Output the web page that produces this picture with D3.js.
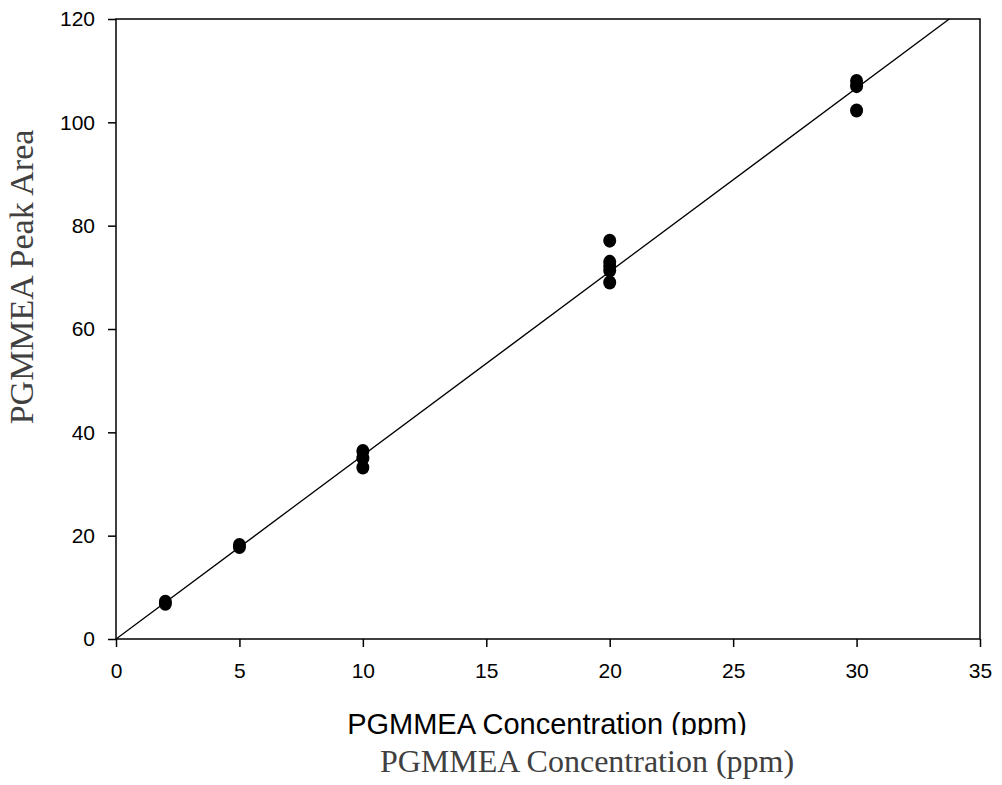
<!DOCTYPE html>
<html>
<head>
<meta charset="utf-8">
<style>
  body { margin: 0; background: #fff; }
  svg { display: block; }
</style>
<script src="https://cdn.jsdelivr.net/npm/d3@7"></script>
</head>
<body>
<svg width="1002" height="785"></svg>
<script>
// measured concentrations and peak areas
var conc = [2, 2, 5, 5, 10, 10, 10, 20, 20, 20, 20, 20, 30, 30, 30];
var area = [7.2, 6.8, 18.2, 17.8, 36.4, 35.0, 33.2, 77.1, 73.0, 72.2, 71.3, 69.0, 108.0, 107.0, 102.3];

// linear fit
var fitSlope = 3.555;
var fitIntercept = 0;

var xTicks = [0, 5, 10, 15, 20, 25, 30, 35];
var yTicks = [0, 20, 40, 60, 80, 100, 120];

var svg = d3.select("svg"),
    margin = {top: 19, right: 22, bottom: 146, left: 116},
    width = +svg.attr("width") - margin.left - margin.right,
    height = +svg.attr("height") - margin.top - margin.bottom;

var x = d3.scaleLinear().domain([0, 35]).range([0, width]);
var y = d3.scaleLinear().domain([0, 120]).range([height, 0]);

svg.append("defs").append("clipPath").attr("id", "plotclip")
  .append("rect").attr("width", width).attr("height", height);
svg.append("defs").append("clipPath").attr("id", "titleclip")
  .append("rect").attr("x", 0).attr("y", 0).attr("width", 1002).attr("height", 735);

var g = svg.append("g").attr("transform", "translate(" + margin.left + "," + margin.top + ")");

var xAxis = g.append("g")
    .attr("transform", "translate(0," + height + ")")
    .call(d3.axisBottom(x).tickValues(xTicks).tickSize(8).tickPadding(16).tickSizeOuter(0));
var yAxis = g.append("g")
    .call(d3.axisLeft(y).tickValues(yTicks).tickSize(8).tickPadding(13).tickSizeOuter(0));

[xAxis, yAxis].forEach(function(a) {
  a.select(".domain").remove();
  a.selectAll("line").attr("stroke", "#000").attr("stroke-width", 1.5);
  a.selectAll("text")
    .attr("fill", "#000")
    .style("font-family", "'Liberation Sans', Arial, sans-serif")
    .style("font-size", "21px");
});

// frame
g.append("rect")
  .attr("width", width).attr("height", height)
  .attr("fill", "none").attr("stroke", "#000").attr("stroke-width", 1.5);

// regression line
g.append("line")
  .attr("clip-path", "url(#plotclip)")
  .attr("x1", x(0)).attr("y1", y(fitIntercept))
  .attr("x2", x(35)).attr("y2", y(fitIntercept + fitSlope * 35))
  .attr("stroke", "#000").attr("stroke-width", 1.3);

// points
g.append("g").selectAll("ellipse")
  .data(conc.map(function(c, i) { return {c: c, a: area[i]}; }))
  .enter().append("ellipse")
  .attr("cx", function(d) { return x(d.c); })
  .attr("cy", function(d) { return y(d.a); })
  .attr("rx", 6.5).attr("ry", 7)
  .attr("fill", "#000");

// y title
svg.append("text")
  .attr("transform", "translate(33,277) rotate(-90)")
  .attr("text-anchor", "middle")
  .attr("fill", "#404040")
  .style("font-family", "'Liberation Serif', 'Times New Roman', serif")
  .style("font-size", "34px")
  .text("PGMMEA Peak Area");

// x title (sans, cut off at the bottom)
svg.append("text")
  .attr("clip-path", "url(#titleclip)")
  .attr("x", 547).attr("y", 734)
  .attr("text-anchor", "middle")
  .attr("fill", "#000")
  .style("font-family", "'Liberation Sans', Arial, sans-serif")
  .style("font-size", "29px")
  .text("PGMMEA Concentration (ppm)");

// x title (serif)
svg.append("text")
  .attr("x", 587).attr("y", 772)
  .attr("text-anchor", "middle")
  .attr("fill", "#404040")
  .style("font-family", "'Liberation Serif', 'Times New Roman', serif")
  .style("font-size", "32px")
  .text("PGMMEA Concentration (ppm)");
</script>
</body>
</html>
